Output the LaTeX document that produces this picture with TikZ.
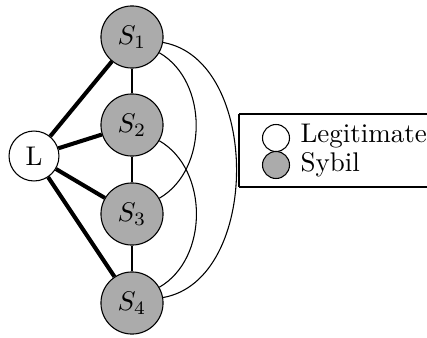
\documentclass[tikz,border=0pt]{standalone}
\begin{document}
\begin{tikzpicture}[x=0.3704pt, y=-0.3704pt,
  sybil/.style={circle, draw, fill=black!33, minimum size=23pt, inner sep=0pt},
  legit/.style={circle, draw, fill=white, minimum size=18.5pt, inner sep=0pt},
  strong/.style={line width=1.5pt},
  weak/.style={line width=0.4pt},
  keydot/.style={circle, draw, minimum size=10pt, inner sep=0pt}]
\useasboundingbox (0,0) rectangle (427,337);

% graph nodes
\node[legit] (L) at (34,156) {L};
\node[sybil] (s1) at (132,37) {$S_1$};
\node[sybil] (s2) at (132,125) {$S_2$};
\node[sybil] (s3) at (132,214) {$S_3$};
\node[sybil] (s4) at (132,303) {$S_4$};

% links from the legitimate node
\foreach \t in {s1,s2,s3,s4} \draw[strong] (L) -- (\t);

% links among the sybil nodes
\draw[weak] (s1) -- (s2);
\draw[weak] (s2) -- (s3);
\draw[weak] (s3) -- (s4);
\draw[weak] (s1) to[bend left=60] (s3);
\draw[weak] (s2) to[bend left=60] (s4);
\draw[weak] (s1) to[bend left=80] (s4);

% key
\draw[weak] (239,114) -- (430,114);
\draw[weak] (239,187) -- (430,187);
\draw[weak] (239,114) -- (239,187);
\node[keydot, fill=white] (k1) at (276,138) {};
\node[keydot, fill=black!33] (k2) at (276,165) {};
\node[anchor=base west, inner sep=0pt] (t1) at (300,142) {Legitimate};
\node[anchor=base west, inner sep=0pt] (t2) at (300,171) {Sybil};
\end{tikzpicture}
\end{document}
